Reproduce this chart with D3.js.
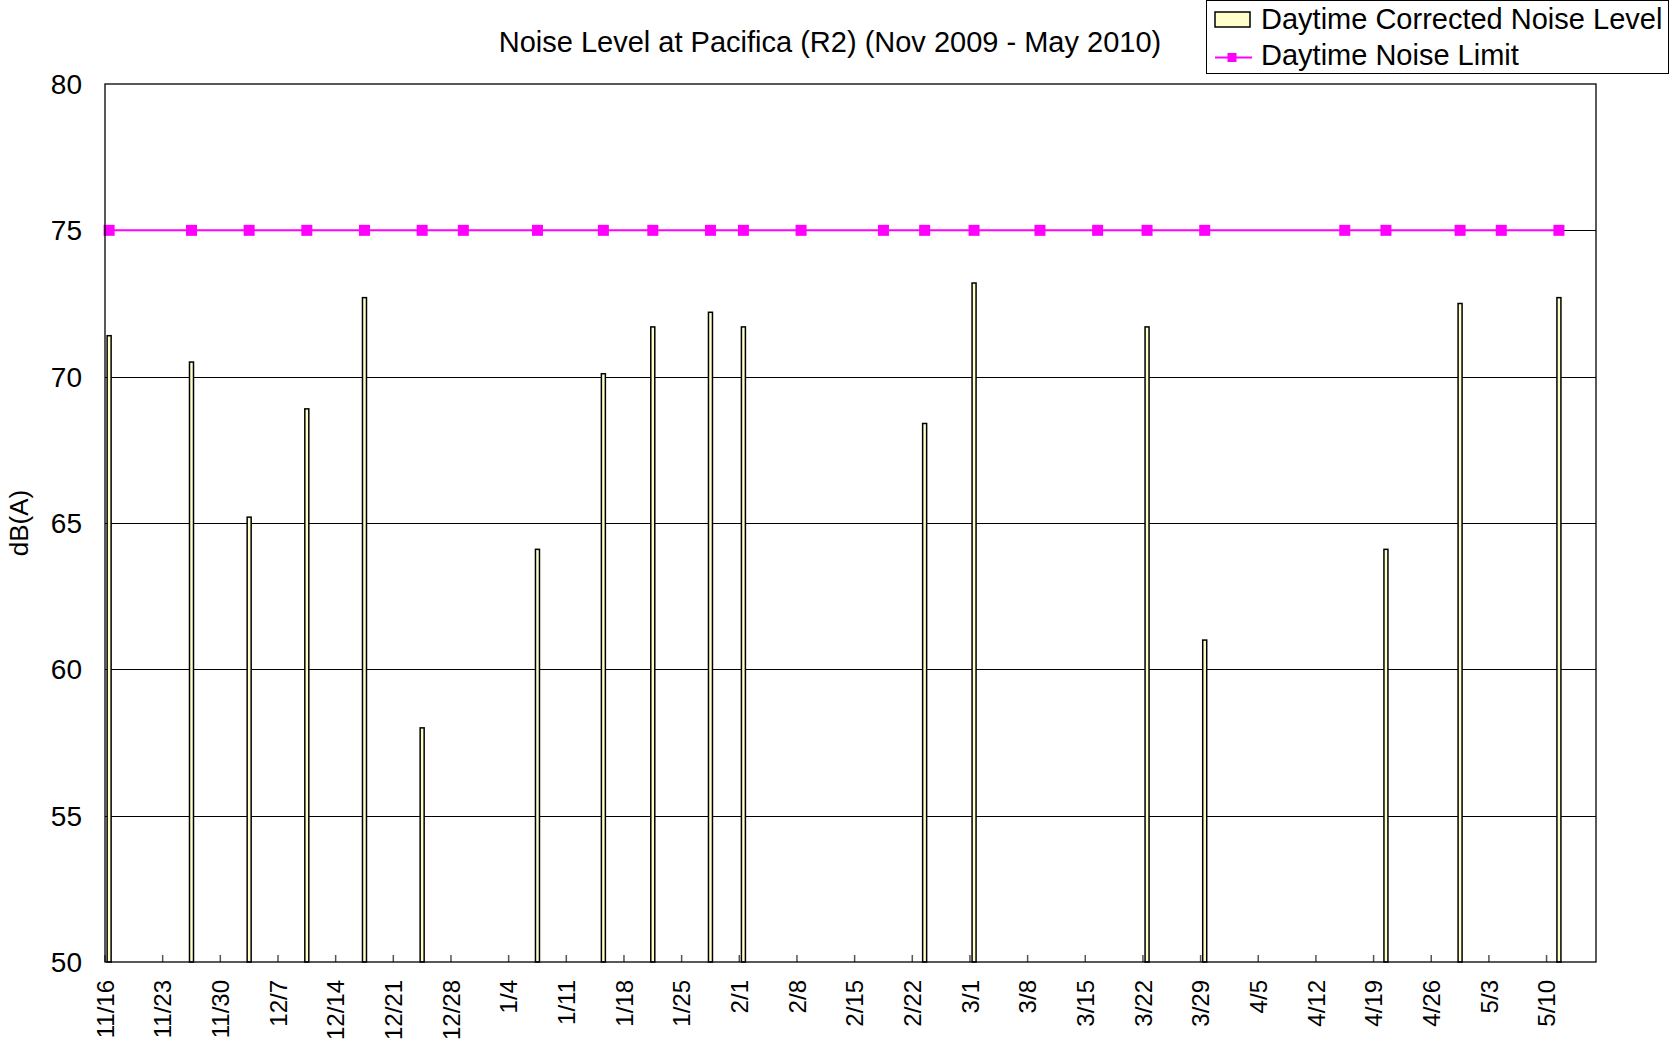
<!DOCTYPE html>
<html>
<head>
<meta charset="utf-8">
<script src="https://cdn.jsdelivr.net/npm/d3@7"></script>
<style>
  body { margin: 0; background: #fff; }
  text { font-family: "Liberation Sans", Arial, sans-serif; fill: #000; }
</style>
</head>
<body>
<div id="screen"></div>
<script>
// readings, one per site visit
var days = ['2009-11-16', '2009-11-26', '2009-12-03', '2009-12-10', '2009-12-17', '2009-12-24', '2009-12-29',
            '2010-01-07', '2010-01-15', '2010-01-21', '2010-01-28', '2010-02-01', '2010-02-08', '2010-02-18',
            '2010-02-23', '2010-03-01', '2010-03-09', '2010-03-16', '2010-03-22', '2010-03-29', '2010-04-15',
            '2010-04-20', '2010-04-29', '2010-05-04', '2010-05-11'];

var noise = [71.4, 70.5, 65.2, 68.9, 72.7, 58.0, null,
             64.1, 70.1, 71.7, 72.2, 71.7, null, null,
             68.4, 73.2, null, null, 71.7, 61.0, null,
             64.1, 72.5, null, 72.7];

var limit = [75, 75, 75, 75, 75, 75, 75, 75, 75, 75, 75, 75, 75,
             75, 75, 75, 75, 75, 75, 75, 75, 75, 75, 75, 75];

var yTicks = [50, 55, 60, 65, 70, 75, 80];
var axisStart = '2009-11-16', axisEnd = '2010-05-16';

var title = 'Noise Level at Pacifica (R2) (Nov 2009 - May 2010)',
    seriesNames = ['Daytime Corrected Noise Level', 'Daytime Noise Limit'];

var parse = d3.utcParse('%Y-%m-%d'),
    fmt = d3.utcFormat('%-m/%-d'),
    noon = function(s) { return d3.utcHour.offset(parse(s), 12); };

var rows = days.map(function(d, i) {
  return { date: noon(d), noise: noise[i], limit: limit[i] };
});

// note: "top" is a read-only global in browsers, so use a box object
var W = 1671, H = 1044,
    box = { l: 105, r: 1596, t: 84, b: 962 };

var scene = d3.select('#screen')
              .append('svg')
              .attr('width', W)
              .attr('height', H);

var x = d3.scaleUtc()
          .domain([parse(axisStart), parse(axisEnd)])
          .range([box.l, box.r]),
    y = d3.scaleLinear()
          .domain([50, 80])
          .range([box.b, box.t]);

// gridlines
scene.append('g')
     .selectAll('line')
     .data(yTicks.slice(1, -1))
     .enter()
       .append('line')
       .attr('x1', box.l).attr('x2', box.r)
       .attr('y1', function(d) { return Math.round(y(d)) + 0.5; })
       .attr('y2', function(d) { return Math.round(y(d)) + 0.5; })
       .attr('stroke', '#000')
       .attr('stroke-width', 1);

// week ticks, pointing into the plot
var weeks = d3.utcDay.range(parse(axisStart), parse(axisEnd), 7);

scene.append('g')
     .selectAll('line')
     .data(weeks)
     .enter()
       .append('line')
       .attr('x1', function(d) { return x(d); })
       .attr('x2', function(d) { return x(d); })
       .attr('y1', box.b).attr('y2', box.b - 7)
       .attr('stroke', '#555')
       .attr('stroke-width', 1.5);

scene.append('g')
     .selectAll('text')
     .data(weeks)
     .enter()
       .append('text')
       .attr('transform', function(d) { return 'translate(' + x(d) + ',' + (box.b + 18) + ') rotate(-90)'; })
       .attr('dy', '0.36em')
       .attr('text-anchor', 'end')
       .style('font-size', '24px')
       .text(fmt);

// y labels
scene.append('g')
     .selectAll('text')
     .data(yTicks)
     .enter()
       .append('text')
       .attr('x', 82)
       .attr('y', function(d) { return y(d); })
       .attr('dy', '0.36em')
       .attr('text-anchor', 'end')
       .style('font-size', '28px')
       .text(function(d) { return d; });

scene.append('text')
     .attr('transform', 'translate(19,523) rotate(-90)')
     .attr('dy', '0.36em')
     .attr('text-anchor', 'middle')
     .style('font-size', '26px')
     .text('dB(A)');

// bars
scene.append('g')
     .selectAll('rect')
     .data(rows.filter(function(d) { return d.noise != null; }))
     .enter()
       .append('rect')
       .attr('x', function(d) { return x(d.date) - 2; })
       .attr('y', function(d) { return y(d.noise); })
       .attr('width', 4)
       .attr('height', function(d) { return y(50) - y(d.noise); })
       .attr('fill', '#ffffcc')
       .attr('stroke', '#000')
       .attr('stroke-width', 1.5);

// limit line
var line = d3.line()
             .x(function(d) { return x(d.date); })
             .y(function(d) { return y(d.limit); });

scene.append('path')
     .datum(rows)
     .attr('d', line)
     .attr('fill', 'none')
     .attr('stroke', '#ff00ff')
     .attr('stroke-width', 2);

scene.append('g')
     .selectAll('rect')
     .data(rows)
     .enter()
       .append('rect')
       .attr('x', function(d) { return x(d.date) - 5.5; })
       .attr('y', function(d) { return y(d.limit) - 5.5; })
       .attr('width', 11)
       .attr('height', 11)
       .attr('fill', '#ff00ff');

// plot frame
scene.append('rect')
     .attr('x', box.l).attr('y', box.t)
     .attr('width', box.r - box.l).attr('height', box.b - box.t)
     .attr('fill', 'none')
     .attr('stroke', '#000')
     .attr('stroke-width', 1.3);

scene.append('text')
     .attr('x', 830)
     .attr('y', 52)
     .attr('text-anchor', 'middle')
     .style('font-size', '29px')
     .text(title);

// legend
var lg = scene.append('g');

lg.append('rect')
  .attr('x', 1206.5).attr('y', 0.5)
  .attr('width', 462).attr('height', 73)
  .attr('fill', '#fff')
  .attr('stroke', '#000');

lg.append('rect')
  .attr('x', 1215).attr('y', 12)
  .attr('width', 35).attr('height', 15)
  .attr('fill', '#ffffcc')
  .attr('stroke', '#000')
  .attr('stroke-width', 1.5);

lg.append('line')
  .attr('x1', 1215).attr('x2', 1252)
  .attr('y1', 57.5).attr('y2', 57.5)
  .attr('stroke', '#ff00ff')
  .attr('stroke-width', 2);

lg.append('rect')
  .attr('x', 1227.5).attr('y', 53)
  .attr('width', 9).attr('height', 9)
  .attr('fill', '#ff00ff');

lg.selectAll('.lbl')
  .data(seriesNames)
  .enter()
    .append('text')
    .attr('class', 'lbl')
    .attr('x', 1261)
    .attr('y', function(d, i) { return 29 + i * 36; })
    .style('font-size', '29px')
    .text(function(d) { return d; });
</script>
</body>
</html>
